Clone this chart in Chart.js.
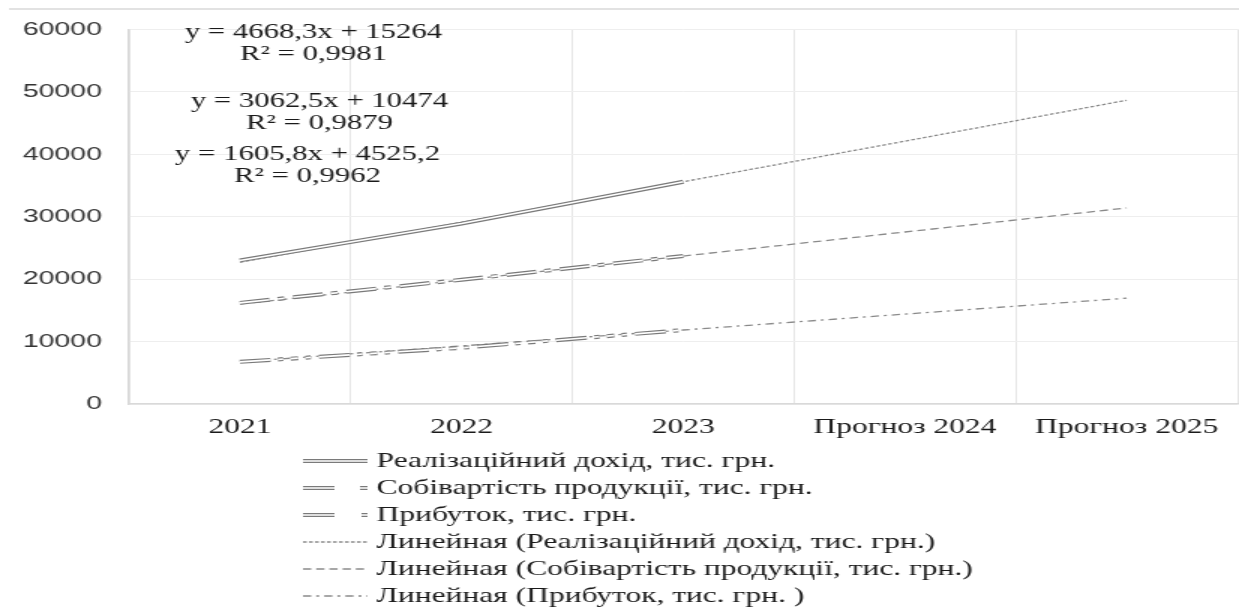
<!DOCTYPE html>
<html>
<head>
<meta charset="utf-8">
<script src="https://cdn.jsdelivr.net/npm/chart.js@4.4.0/dist/chart.umd.min.js"></script>
<style>
  html, body { margin: 0; padding: 0; background: #fff; overflow: hidden; }
  /* the source picture is stretched sideways, so the whole chart is drawn narrow and widened */
  #wrap { width: 826px; height: 607px; transform: scaleX(1.5); transform-origin: 0 0; }
</style>
</head>
<body>
<div id="wrap"><canvas id="chart" width="826" height="607"></canvas></div>
<script>
const years = ['2021', '2022', '2023', 'Прогноз 2024', 'Прогноз 2025'];
const revenue = [23000, 28900, 35600];
const cost = [16200, 19900, 23700];
const profit = [6750, 9000, 11850];
const revenueTrend = [22700, 29100, 35600, 42100, 48650];
const costTrend = [16000, 19850, 23700, 27550, 31400];
const profitTrend = [6750, 9300, 11850, 14400, 16950];
const yMin = 0, yMax = 60000, yStep = 10000;

const seriesNames = ['Реалізаційний дохід, тис. грн.', 'Собівартість продукції, тис. грн.', 'Прибуток, тис. грн.'];
const trendNames = ['Линейная (Реалізаційний дохід, тис. грн.)', 'Линейная (Собівартість продукції, тис. грн.)', 'Линейная (Прибуток, тис. грн. )'];
const equations = ['y = 4668,3x + 15264', 'y = 3062,5x + 10474', 'y = 1605,8x + 4525,2'];
const rSquared = ['R² = 0,9981', 'R² = 0,9879', 'R² = 0,9962'];

const values = [revenue, cost, profit];
const trends = [revenueTrend, costTrend, profitTrend];
const lineDash = [[], [20, 5.5, 4.5, 6], [20.5, 5, 3.5, 5, 5, 5, 3.5, 5.5]];
const trendDash = [[2.5, 1.5], [5.5, 3.3], [5.5, 3.3, 2, 3.3]];

let datasets = [];
for (let i = 0; i < 3; i++) {
  // double line = wide grey stroke with a thin white stroke on top
  datasets.push({ label: seriesNames[i], data: values[i], borderColor: '#7a7a7a', borderWidth: 4,
    borderDash: lineDash[i], pointRadius: 0, order: 1 });
  datasets.push({ label: seriesNames[i], data: values[i], borderColor: '#ffffff', borderWidth: 1.6,
    borderDash: lineDash[i], pointRadius: 0, order: 0 });
  datasets.push({ label: trendNames[i], data: trends[i], borderColor: '#8a8a8a', borderWidth: 1.3,
    borderDash: trendDash[i], pointRadius: 0, order: 2 });
}

const serif = 'Liberation Serif';

const extras = {
  id: 'extras',
  afterDraw(chart) {
    const ctx = chart.ctx;
    ctx.save();
    // frame edge at the top
    ctx.strokeStyle = '#d9d9d9';
    ctx.lineWidth = 1.5;
    ctx.beginPath();
    ctx.moveTo(6, 9);
    ctx.lineTo(826, 9);
    ctx.stroke();

    // trendline equations
    ctx.fillStyle = '#1a1a1a';
    ctx.font = '20.5px "' + serif + '"';
    ctx.textAlign = 'center';
    ctx.textBaseline = 'middle';
    const eqX = [209, 213, 205];
    const eqY = [33, 102, 155];
    for (let i = 0; i < 3; i++) {
      ctx.fillText(equations[i], eqX[i], eqY[i]);
      ctx.fillText(rSquared[i], eqX[i], eqY[i] + 22);
    }

    // legend
    const rowY = [461, 488, 515, 542, 569, 596];
    const x0 = 202, x1 = 245, tx = 251;
    const sampleDash = [[], [21, 17, 5, 100], [21, 18, 4, 100]];
    ctx.font = '21px "' + serif + '"';
    ctx.textAlign = 'left';
    ctx.lineCap = 'butt';
    for (let i = 0; i < 3; i++) {
      const y = rowY[i];
      ctx.setLineDash(sampleDash[i]);
      ctx.strokeStyle = '#7a7a7a';
      ctx.lineWidth = 4;
      ctx.beginPath(); ctx.moveTo(x0, y); ctx.lineTo(x1, y); ctx.stroke();
      ctx.strokeStyle = '#fff';
      ctx.lineWidth = 1.6;
      ctx.beginPath(); ctx.moveTo(x0, y); ctx.lineTo(x1, y); ctx.stroke();
      ctx.setLineDash([]);
      ctx.fillStyle = '#1a1a1a';
      ctx.fillText(seriesNames[i], tx, y);
    }
    for (let i = 0; i < 3; i++) {
      const y = rowY[i + 3];
      ctx.setLineDash(trendDash[i]);
      ctx.strokeStyle = '#8a8a8a';
      ctx.lineWidth = 1.3;
      ctx.beginPath(); ctx.moveTo(x0, y); ctx.lineTo(x1, y); ctx.stroke();
      ctx.setLineDash([]);
      ctx.fillText(trendNames[i], tx, y);
    }
    ctx.restore();
  }
};

new Chart(document.getElementById('chart'), {
  type: 'line',
  data: { labels: years, datasets: datasets },
  options: {
    responsive: false,
    animation: false,
    devicePixelRatio: 1,
    layout: { padding: { top: 21, left: 0, right: 1, bottom: 0 } },
    elements: { line: { tension: 0, fill: false } },
    plugins: { legend: { display: false }, tooltip: { enabled: false } },
    scales: {
      x: {
        offset: true,
        grid: { offset: true, color: '#e6e6e6', drawTicks: false },
        border: { color: '#d9d9d9', width: 1.5 },
        ticks: { font: { family: serif, size: 21 }, color: '#1a1a1a', padding: 11, maxRotation: 0, autoSkip: false },
        afterFit(scale) { scale.height = 203; }
      },
      y: {
        min: yMin,
        max: yMax,
        grid: { color: '#eeeeee', drawTicks: false },
        border: { color: '#d9d9d9', width: 1.5 },
        ticks: { stepSize: yStep, padding: 18, font: { family: 'Liberation Sans', size: 19 }, color: '#333333',
          callback: v => String(v) },
        afterFit(scale) { scale.width = 86; }
      }
    }
  },
  plugins: [extras]
});
</script>
</body>
</html>
